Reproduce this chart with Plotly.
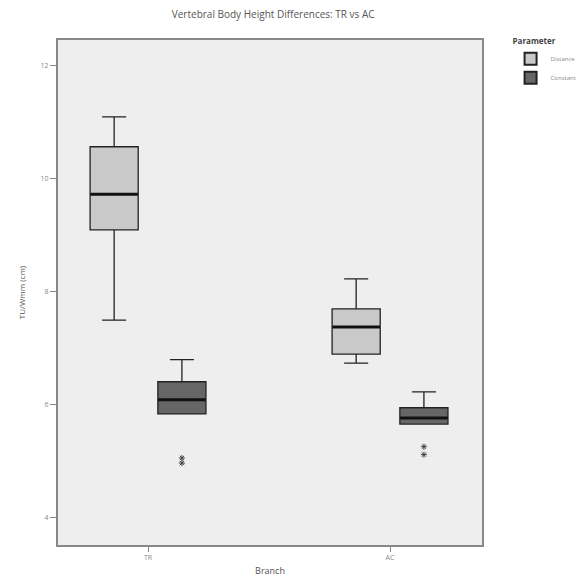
import plotly.graph_objects as go

branches = ["TR", "AC"]
# Distance parameter (light boxes)
dist_low = [7.50, 6.74]
dist_q1 = [9.10, 6.90]
dist_med = [9.73, 7.38]
dist_q3 = [10.57, 7.70]
dist_high = [11.10, 8.23]
# Constant parameter (dark boxes)
const_low = [5.84, 5.66]
const_q1 = [5.84, 5.66]
const_med = [6.09, 5.77]
const_q3 = [6.41, 5.95]
const_high = [6.80, 6.23]
# Outliers
out_x = ["TR", "TR", "AC", "AC"]
out_y = [5.06, 4.97, 5.12, 5.26]

y_ticks = [4, 6, 8, 10, 12]

fig = go.Figure()
fig.add_trace(go.Box(
    x=branches, q1=dist_q1, median=dist_med, q3=dist_q3,
    lowerfence=dist_low, upperfence=dist_high, name="Distance",
    offsetgroup="d", fillcolor="#c9c9c9",
    line=dict(color="#222222", width=1.3), whiskerwidth=0.5,
))
fig.add_trace(go.Box(
    x=branches, q1=const_q1, median=const_med, q3=const_q3,
    lowerfence=const_low, upperfence=const_high, name="Constant",
    offsetgroup="c", fillcolor="#666666",
    line=dict(color="#222222", width=1.3), whiskerwidth=0.5,
))
# thick median bars
fig.add_trace(go.Scatter(
    x=branches, y=dist_med, mode="markers", offsetgroup="d", showlegend=False,
    hoverinfo="skip",
    marker=dict(symbol="line-ew", size=34, line=dict(color="#111111", width=3)),
))
fig.add_trace(go.Scatter(
    x=branches, y=const_med, mode="markers", offsetgroup="c", showlegend=False,
    hoverinfo="skip",
    marker=dict(symbol="line-ew", size=34, line=dict(color="#111111", width=3)),
))
fig.add_trace(go.Scatter(
    x=out_x, y=out_y, mode="markers", offsetgroup="c", showlegend=False,
    marker=dict(symbol="asterisk-open", size=5, color="#444444",
                line=dict(color="#444444", width=1)),
))

fig.update_layout(
    width=579, height=572,
    margin=dict(l=50, r=105, t=32, b=35),
    paper_bgcolor="white", plot_bgcolor="#eeeeee",
    boxmode="group", boxgap=0.44, boxgroupgap=0.29,
    scattermode="group", scattergap=0.44,
    title=dict(text="Vertebral Body Height Differences: TR vs AC",
               x=0.458, xanchor="center", y=0.988, yanchor="middle",
               font=dict(family="Open Sans", size=10, color="#555555")),
    font=dict(family="Open Sans", size=9, color="#666666"),
    legend=dict(title=dict(text="<b>Parameter</b>", font=dict(size=8, color="#444444")),
                xref="container", yref="container",
                x=0.868, xanchor="left", y=0.955, yanchor="top",
                font=dict(size=6, color="#888888"), bgcolor="rgba(0,0,0,0)",
                tracegroupgap=0, itemsizing="constant", itemwidth=30),
    showlegend=True,
)
fig.update_xaxes(
    type="category", range=[-0.372, 1.380], automargin=False,
    showline=True, linecolor="#888888", linewidth=2, mirror=True,
    ticks="outside", ticklen=5, tickcolor="#888888",
    title=dict(text="Branch", font=dict(size=9, color="#555555"), standoff=6),
    tickfont=dict(size=7, color="#888888"), showgrid=False,
)
fig.update_yaxes(
    range=[3.52, 12.46], tickvals=y_ticks, automargin=False,
    showline=True, linecolor="#888888", linewidth=2, mirror=True,
    ticks="outside", ticklen=6, tickcolor="#888888",
    title=dict(text="TU/Wmm (cm)", font=dict(size=8, color="#555555"), standoff=14),
    tickfont=dict(size=7, color="#888888"), showgrid=False, zeroline=False,
)
fig.write_html("out.html")
